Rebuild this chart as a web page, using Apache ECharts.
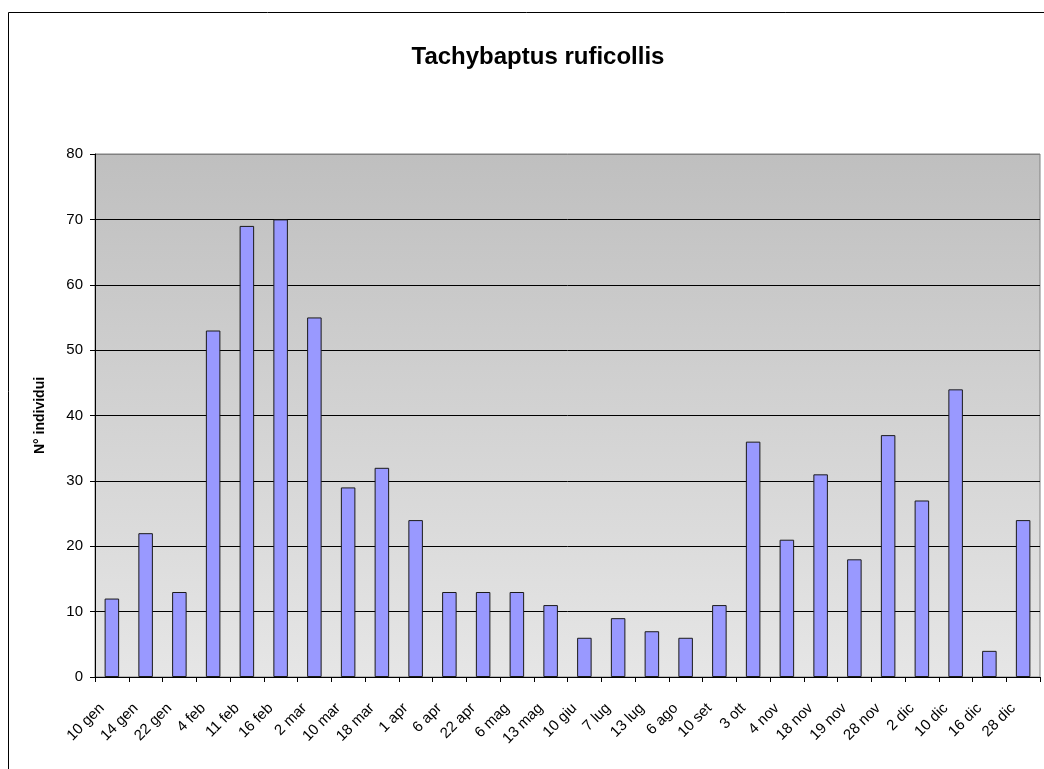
<!DOCTYPE html>
<html>
<head>
<meta charset="utf-8">
<script src="https://cdn.jsdelivr.net/npm/echarts@6/dist/echarts.min.js"></script>
<style>
  html, body { margin: 0; padding: 0; background: #fff; }
  #chart { width: 1044px; height: 769px; }
</style>
</head>
<body>
<div id="chart"></div>
<script>
// survey dates and counts
const dates = ['10 gen', '14 gen', '22 gen', '4 feb', '11 feb', '16 feb', '2 mar', '10 mar',
  '18 mar', '1 apr', '6 apr', '22 apr', '6 mag', '13 mag', '10 giu', '7 lug', '13 lug',
  '6 ago', '10 set', '3 ott', '4 nov', '18 nov', '19 nov', '28 nov', '2 dic', '10 dic',
  '16 dic', '28 dic']
const counts = [12, 22, 13, 53, 69, 70, 55, 29, 32, 24, 13, 13, 13, 11, 6, 9, 7, 6, 11,
  36, 21, 31, 18, 37, 27, 44, 4, 24]
const yTicks = [0, 10, 20, 30, 40, 50, 60, 70, 80]

const font = '"Liberation Sans", Arial, sans-serif'
const chart = echarts.init(document.getElementById('chart'))

// split lines are black, the top one doubles as the grey plot border
const splitColors = yTicks.map((v, i) => (i === yTicks.length - 1 ? '#808080' : '#000'))

chart.setOption({
  animation: false,
  title: {
    text: 'Tachybaptus ruficollis',
    left: 533,
    top: 40,
    textAlign: 'center',
    textStyle: { fontFamily: font, fontSize: 24, fontWeight: 'bold', color: '#000' }
  },
  graphic: [{
    type: 'rect',
    shape: { x: 8.5, y: 12.5, width: 1100, height: 800 },
    style: { fill: 'none', stroke: '#000', lineWidth: 1 },
    silent: true
  }],
  grid: {
    left: 95, top: 154, right: 4, bottom: 92,
    show: true,
    borderColor: '#808080',
    borderWidth: 1,
    backgroundColor: new echarts.graphic.LinearGradient(0, 0, 0, 1, [
      { offset: 0, color: '#bfbfbf' },
      { offset: 1, color: '#e6e6e6' }
    ])
  },
  xAxis: {
    type: 'category',
    data: dates,
    axisLine: { lineStyle: { color: '#000' } },
    axisTick: { show: true, length: 5, lineStyle: { color: '#000' } },
    axisLabel: {
      rotate: 45, interval: 0, margin: 19,
      padding: [0, 14, 0, 0],
      fontFamily: font, fontSize: 15, color: '#000'
    }
  },
  yAxis: {
    type: 'value',
    min: 0, max: 80, interval: 10,
    name: 'N° individui',
    nameLocation: 'middle',
    nameGap: 48,
    nameTextStyle: { fontFamily: font, fontSize: 14, fontWeight: 'bold', color: '#000' },
    axisLine: { show: true, lineStyle: { color: '#000' } },
    axisTick: { show: true, length: 5, lineStyle: { color: '#000' } },
    axisLabel: { fontFamily: font, fontSize: 15, color: '#000', margin: 12 },
    splitLine: { show: true, lineStyle: { color: splitColors, width: 1 } }
  },
  series: [{
    type: 'bar',
    data: counts,
    barWidth: '43%',
    itemStyle: { color: '#9999ff', borderColor: '#1a1a1a', borderWidth: 1 }
  }]
})
</script>
</body>
</html>
